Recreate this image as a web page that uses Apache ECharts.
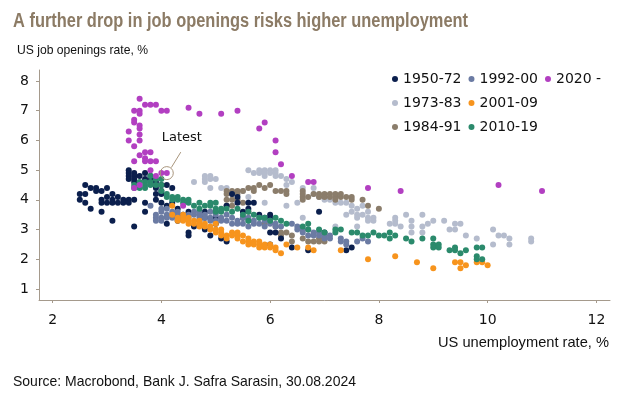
<!DOCTYPE html>
<html>
<head>
<meta charset="utf-8">
<script src="https://cdn.jsdelivr.net/npm/echarts@6/dist/echarts.min.js"></script>
<style>
  html, body { margin: 0; padding: 0; background: #fff; }
  #chart { width: 622px; height: 397px; }
</style>
</head>
<body>
<div id="chart"></div>
<script>
// tick labels
const xTicks = [2, 4, 6, 8, 10, 12];
const yTicks = [1, 2, 3, 4, 5, 6, 7, 8];

// [unemployment rate, job openings rate]
const data1950 = [
  [2.5, 4.2], [2.5, 4.0], [2.6, 4.5], [2.6, 4.2], [2.6, 3.9], [2.7, 4.4], [2.7, 3.7], [2.8, 4.4], [2.8, 4.3],
  [2.9, 4.3], [2.9, 4.0], [2.9, 3.9], [2.9, 3.6], [3.0, 4.4], [3.0, 4.1], [3.0, 3.9], [3.1, 4.2], [3.1, 4.0],
  [3.1, 3.9], [3.1, 3.3], [3.2, 4.1], [3.2, 3.9], [3.3, 4.0], [3.3, 3.9], [3.4, 4.0], [3.4, 3.9], [3.5, 4.0],
  [3.5, 3.1], [3.4, 5.0], [3.4, 4.9], [3.4, 4.8], [3.4, 4.7], [3.5, 4.9], [3.5, 4.8], [3.5, 4.7], [3.5, 4.6],
  [3.6, 4.8], [3.7, 4.9], [3.7, 4.7], [3.8, 4.8], [3.8, 4.7], [3.9, 4.6], [3.9, 4.4], [4.0, 4.3], [4.0, 4.5],
  [4.1, 4.5], [4.2, 4.4], [4.0, 4.2], [3.7, 3.9], [3.7, 3.6], [3.9, 4.2], [3.9, 4.0], [4.0, 3.9], [4.1, 3.8],
  [4.1, 3.2], [4.2, 3.9], [4.3, 3.7], [4.5, 2.9], [4.5, 2.8], [4.5, 3.6], [4.7, 3.3], [4.8, 3.4], [4.8, 3.6],
  [4.8, 3.0], [4.9, 2.8], [5.0, 3.6], [5.0, 3.4], [5.1, 2.7], [5.2, 2.6], [5.3, 4.2], [5.4, 4.1], [5.4, 3.9],
  [5.5, 3.4], [5.5, 3.6], [5.6, 3.9], [5.6, 3.7], [5.7, 3.9], [5.8, 3.5], [5.9, 3.4], [6.0, 3.5], [6.0, 3.4],
  [6.0, 2.9], [6.0, 2.5], [6.1, 2.9], [6.2, 2.7], [6.4, 2.4], [6.7, 2.3], [6.9, 3.6], [7.0, 2.9], [7.4, 2.3],
  [7.5, 2.4], [5.2, 3.8], [5.0, 3.2], [4.6, 3.1], [4.4, 3.5], [4.3, 3.3]
];
const data1973 = [
  [4.6, 4.6], [4.8, 4.8], [4.8, 4.7], [4.9, 4.7], [4.9, 4.4], [5.0, 4.7], [5.1, 4.4], [5.2, 4.4], [4.9, 4.8],
  [4.8, 4.6], [5.6, 5.0], [5.7, 4.9], [5.8, 5.0], [5.8, 4.9], [5.9, 5.0], [5.9, 4.9], [6.0, 5.0], [6.0, 4.9],
  [6.1, 5.0], [6.1, 4.9], [6.2, 4.8], [6.3, 4.7], [6.3, 4.5], [6.4, 4.6], [6.1, 4.8], [5.9, 4.8], [6.6, 4.4],
  [6.8, 4.4], [6.8, 4.2], [6.9, 4.1], [7.0, 4.0], [7.1, 4.0], [7.2, 3.9], [7.3, 3.9], [7.4, 3.9], [7.4, 3.5],
  [7.5, 3.8], [7.5, 3.6], [7.6, 3.7], [7.6, 3.5], [7.7, 3.8], [7.7, 3.5], [7.8, 3.6], [7.8, 3.4], [7.9, 3.4],
  [7.2, 3.1], [6.6, 3.4], [5.9, 3.9], [5.6, 4.1], [5.5, 4.3], [6.3, 3.8], [6.5, 3.9], [7.6, 3.4], [7.6, 3.1],
  [7.8, 3.3], [7.9, 3.3], [8.2, 3.2], [8.3, 3.4], [8.3, 3.3], [8.3, 3.2], [8.4, 3.1], [8.5, 3.5], [8.6, 3.3],
  [8.6, 3.1], [8.6, 2.9], [8.8, 3.5], [8.8, 3.1], [8.8, 2.9], [8.9, 3.2], [9.0, 3.3], [9.2, 3.3], [9.3, 3.0],
  [9.4, 3.2], [9.4, 3.0], [9.5, 3.2], [9.6, 2.8], [9.8, 2.7], [10.1, 3.0], [10.1, 2.5], [10.2, 2.8],
  [10.3, 2.8], [10.4, 2.7], [10.4, 2.5], [10.8, 2.6], [10.8, 2.7]
];
const data1984 = [
  [6.6, 4.3], [6.6, 4.1], [6.6, 4.0], [6.7, 4.1], [6.8, 4.2], [6.9, 4.2], [6.9, 4.1], [7.0, 4.2], [7.0, 4.1],
  [7.1, 4.2], [7.1, 4.1], [7.2, 4.1], [7.2, 4.2], [7.3, 4.1], [7.3, 4.2], [7.4, 4.1], [7.5, 4.1], [7.5, 4.0],
  [7.2, 4.0], [7.7, 4.0], [7.8, 3.8], [8.0, 3.7], [6.0, 4.5], [6.1, 4.3], [6.2, 4.3], [6.3, 4.3], [6.3, 4.2],
  [6.6, 4.2], [5.9, 4.4], [5.8, 4.5], [5.7, 4.4], [5.7, 4.3], [5.6, 4.4], [5.2, 4.3], [5.2, 4.2], [5.3, 4.3],
  [5.3, 4.2], [5.4, 4.3], [5.4, 4.2], [5.2, 4.0], [5.2, 3.8], [5.3, 4.0], [5.4, 4.0], [5.5, 4.3], [5.3, 3.8],
  [5.5, 3.9], [5.6, 3.6], [5.9, 3.2], [6.2, 2.9], [6.3, 2.9], [6.4, 2.8], [6.4, 2.6], [6.6, 2.7], [6.7, 2.6],
  [6.8, 2.6], [6.9, 2.6], [7.0, 2.6], [6.9, 2.7], [7.0, 2.7], [6.1, 3.1], [6.2, 2.8]
];
const data1992 = [
  [3.8, 3.8], [3.9, 3.5], [3.9, 3.4], [3.9, 3.3], [4.0, 3.7], [4.0, 3.6], [4.0, 3.4], [4.0, 3.3], [4.1, 3.7],
  [4.1, 3.5], [4.1, 3.4], [4.2, 3.6], [4.2, 3.5], [4.2, 3.4], [4.3, 3.6], [4.3, 3.5], [4.3, 3.4], [4.4, 3.5],
  [4.4, 3.4], [4.5, 3.5], [4.5, 3.4], [4.6, 3.6], [4.6, 3.5], [4.7, 3.6], [4.7, 3.5], [4.7, 3.4], [4.8, 3.5],
  [4.8, 3.4], [4.9, 3.6], [4.9, 3.4], [4.9, 3.3], [5.0, 3.5], [5.0, 3.3], [5.1, 3.4], [5.1, 3.3], [5.2, 3.3],
  [5.2, 3.5], [5.3, 3.4], [5.3, 3.2], [5.4, 3.3], [5.4, 3.2], [5.5, 3.4], [5.5, 3.2], [5.6, 3.3], [5.6, 3.4],
  [5.6, 3.1], [5.7, 3.2], [5.7, 3.3], [5.8, 3.4], [5.8, 3.2], [5.9, 3.1], [5.9, 3.3], [6.0, 3.3], [6.0, 3.2],
  [6.1, 3.2], [6.1, 3.1], [6.2, 3.1], [6.4, 3.2], [6.5, 3.1], [6.5, 3.0], [6.6, 3.0], [6.6, 2.9], [6.7, 3.0],
  [6.7, 2.8], [6.8, 2.9], [6.8, 2.8], [6.9, 2.9], [6.9, 2.8], [7.0, 2.8], [7.0, 2.7], [7.1, 2.8], [7.1, 2.7],
  [7.3, 2.7], [7.3, 2.6], [7.4, 2.5], [7.4, 2.6], [7.6, 2.6], [7.7, 2.7], [7.8, 2.6]
];
const data2001 = [
  [4.2, 3.8], [4.2, 3.5], [4.3, 3.4], [4.3, 3.3], [4.4, 3.5], [4.4, 3.4], [4.4, 3.3], [4.5, 3.4], [4.5, 3.3],
  [4.5, 3.2], [4.6, 3.3], [4.6, 3.2], [4.7, 3.3], [4.7, 3.2], [4.7, 3.1], [4.8, 3.2], [4.8, 3.1], [4.9, 3.0],
  [4.9, 3.1], [5.0, 3.0], [5.0, 2.9], [5.0, 3.2], [5.1, 2.9], [5.1, 3.0], [5.1, 2.8], [5.2, 2.8], [5.2, 2.7],
  [5.3, 2.9], [5.3, 2.8], [5.4, 2.9], [5.4, 2.8], [5.4, 2.7], [5.5, 2.8], [5.5, 2.6], [5.6, 2.7], [5.6, 2.6],
  [5.6, 2.5], [5.7, 2.6], [5.7, 2.5], [5.8, 2.6], [5.8, 2.5], [5.8, 2.4], [5.9, 2.5], [5.9, 2.4], [6.0, 2.4],
  [6.0, 2.5], [6.1, 2.4], [6.1, 2.3], [6.2, 2.2], [6.3, 2.5], [6.5, 2.4], [6.7, 2.4], [6.8, 2.3], [7.3, 2.3],
  [7.8, 2.0], [8.3, 2.1], [8.7, 1.9], [9.0, 1.7], [9.4, 1.9], [9.5, 1.9], [9.5, 1.7], [9.6, 1.8], [9.8, 1.9],
  [9.9, 1.9], [10.0, 1.8]
];
const data2010 = [
  [3.5, 4.4], [3.5, 4.5], [3.6, 4.6], [3.6, 4.4], [3.7, 4.6], [3.7, 4.5], [3.7, 4.4], [3.8, 4.8], [3.8, 4.6],
  [3.8, 4.5], [3.9, 4.7], [3.9, 4.5], [4.0, 4.7], [4.0, 4.5], [4.0, 4.3], [4.1, 4.2], [4.1, 4.1], [4.2, 4.1],
  [4.2, 4.0], [4.3, 4.0], [4.3, 4.1], [4.4, 4.0], [4.4, 3.9], [4.5, 3.9], [4.5, 4.0], [4.6, 3.8], [4.7, 3.9],
  [4.7, 3.7], [4.8, 3.8], [4.9, 3.8], [4.9, 3.9], [5.0, 3.9], [5.0, 3.7], [5.0, 3.6], [5.1, 3.7], [5.1, 3.6],
  [5.2, 3.7], [5.3, 3.6], [5.4, 3.7], [5.5, 3.5], [5.6, 3.6], [5.7, 3.5], [5.6, 3.3], [5.8, 3.4], [5.9, 3.4],
  [6.0, 3.3], [6.1, 3.4], [6.2, 3.3], [6.3, 3.2], [6.6, 3.1], [6.7, 3.2], [6.7, 3.0], [6.9, 3.0], [7.0, 2.9],
  [7.2, 3.0], [7.2, 2.9], [7.3, 3.0], [7.5, 2.9], [7.6, 2.9], [7.7, 2.8], [7.8, 2.8], [7.9, 2.9], [8.0, 2.8],
  [8.1, 2.8], [8.2, 2.9], [8.2, 2.7], [8.3, 2.8], [8.5, 2.7], [8.6, 2.6], [8.8, 2.7], [9.0, 2.7], [9.0, 2.5],
  [9.0, 2.4], [9.1, 2.5], [9.1, 2.4], [9.3, 2.3], [9.4, 2.4], [9.4, 2.3], [9.5, 2.2], [9.6, 2.3], [9.8, 2.4],
  [9.8, 2.1], [9.8, 2.0], [9.9, 2.4], [9.9, 2.0]
];
const data2020 = [
  [3.5, 4.4], [3.6, 4.5], [11.0, 4.3], [10.2, 4.5], [8.4, 4.3], [7.8, 4.4], [6.8, 4.6], [6.7, 4.6], [6.4, 4.8],
  [6.2, 5.2], [6.1, 5.6], [6.1, 6.0], [5.8, 6.4], [5.9, 6.6], [5.4, 7.0], [5.1, 6.9], [4.7, 6.9], [4.5, 7.1],
  [4.1, 7.0], [4.0, 7.0], [3.9, 7.2], [3.8, 7.2], [3.7, 7.2], [3.6, 7.4], [3.6, 7.0], [3.5, 7.0], [3.6, 6.9],
  [3.5, 6.7], [3.5, 6.6], [3.6, 6.5], [3.6, 6.4], [3.4, 6.3], [3.6, 6.2], [3.4, 6.0], [3.6, 6.0], [3.5, 5.8],
  [3.7, 5.6], [3.8, 5.6], [3.6, 5.5], [3.7, 5.4], [3.5, 5.3], [3.7, 5.3], [3.8, 5.3], [3.9, 5.3], [3.8, 5.0],
  [3.9, 4.8], [4.0, 4.9], [4.4, 3.8], [4.1, 4.9]
];
const latestPoint = [4.1, 4.9];

const seriesList = [
  { name: '1973-83', data: data1973, color: '#b5bccd' },
  { name: '1984-91', data: data1984, color: '#8b7d6b' },
  { name: '1950-72', data: data1950, color: '#0b1f4d' },
  { name: '1992-00', data: data1992, color: '#6b7ba3' },
  { name: '2001-09', data: data2001, color: '#f7941d' },
  { name: '2010-19', data: data2010, color: '#2b8a6c' },
  { name: '2020 -', data: data2020, color: '#b23fc1' }
];
const legendRows = [
  ['1950-72', '1992-00', '2020 -'],
  ['1973-83', '2001-09'],
  ['1984-91', '2010-19']
];

const axisColor = '#a59a8c';
const labelFont = 'DejaVu Sans';
const sansFont = '"Liberation Sans", Arial, sans-serif';

// squeeze a text horizontally so it spans the same width as in the picture
const measureCtx = document.createElement('canvas').getContext('2d');
function squeeze(text, font, width) {
  measureCtx.font = font;
  return width / measureCtx.measureText(text).width;
}

function textEl(id, text, font, x, y, width, color, align) {
  return {
    type: 'text', id: id, x: x, y: y,
    scaleX: squeeze(text, font, width),
    style: { text: text, font: font, fill: color, align: align || 'left', verticalAlign: 'middle',
      textAlign: align || 'left', textVerticalAlign: 'middle' }
  };
}

const titleText = 'A further drop in job openings risks higher unemployment';
const yNameText = 'US job openings rate, %';
const xNameText = 'US unemployment rate, %';
const sourceText = 'Source: Macrobond, Bank J. Safra Sarasin, 30.08.2024';

const myChart = echarts.init(document.getElementById('chart'));

let option = {
  animation: false,
  grid: { left: 39, right: 12, top: 70, bottom: 97 },
  legend: legendRows.map((row, i) => ({
    data: row,
    left: 392,
    top: 71 + i * 24,
    padding: 0,
    itemGap: 7,
    itemWidth: 6,
    itemHeight: 6,
    icon: 'circle',
    selectedMode: false,
    textStyle: { fontFamily: labelFont, fontSize: 14, color: '#111', lineHeight: 16 }
  })),
  xAxis: {
    type: 'value',
    min: 1.75,
    max: 12.25,
    splitLine: { show: false },
    axisLine: { lineStyle: { color: axisColor, width: 1 } },
    axisTick: { show: true, length: 3, lineStyle: { color: axisColor }, customValues: xTicks },
    axisLabel: { customValues: xTicks, margin: 13, fontFamily: labelFont, fontSize: 14, color: '#111' }
  },
  yAxis: {
    type: 'value',
    min: 0.63,
    max: 8.37,
    splitLine: { show: false },
    axisLine: { show: true, lineStyle: { color: axisColor, width: 1 } },
    axisTick: { show: true, length: 3, lineStyle: { color: axisColor }, customValues: yTicks },
    axisLabel: { customValues: yTicks, margin: 10, fontFamily: labelFont, fontSize: 14, color: '#111' }
  },
  series: seriesList.map(s => ({
    name: s.name,
    type: 'scatter',
    symbol: 'circle',
    symbolSize: 6,
    itemStyle: { color: s.color, opacity: 1 },
    data: s.data
  })),
  graphic: [
    textEl('title', titleText, 'bold 20px ' + sansFont, 13, 21, 455, '#8c7b65'),
    textEl('yname', yNameText, '13px ' + sansFont, 17, 50, 131, '#111'),
    textEl('xname', xNameText, '15px ' + sansFont, 609, 343, 171, '#111', 'right'),
    textEl('source', sourceText, '15px ' + sansFont, 13, 381.5, 343, '#111')
  ]
};

myChart.setOption(option);

// "Latest" callout placed through the chart's own scales
const p = myChart.convertToPixel({ gridIndex: 0 }, latestPoint);
myChart.setOption({
  graphic: [
    {
      type: 'circle', id: 'latestRing', shape: { cx: p[0], cy: p[1], r: 6.5 },
      style: { fill: 'none', stroke: '#a8957c', lineWidth: 1 }, z: 100
    },
    {
      type: 'line', id: 'latestLine', shape: { x1: p[0] + 4.5, y1: p[1] - 5.5, x2: p[0] + 14, y2: p[1] - 21 },
      style: { stroke: '#a8957c', lineWidth: 1 }, z: 100
    },
    {
      type: 'text', id: 'latestText', x: p[0] + 15, y: p[1] - 35, z: 100,
      style: { text: 'Latest', font: '13px DejaVu Sans', fill: '#111', align: 'center', verticalAlign: 'middle',
        textAlign: 'center', textVerticalAlign: 'middle' }
    }
  ]
});

window.addEventListener('resize', myChart.resize);
</script>
</body>
</html>
